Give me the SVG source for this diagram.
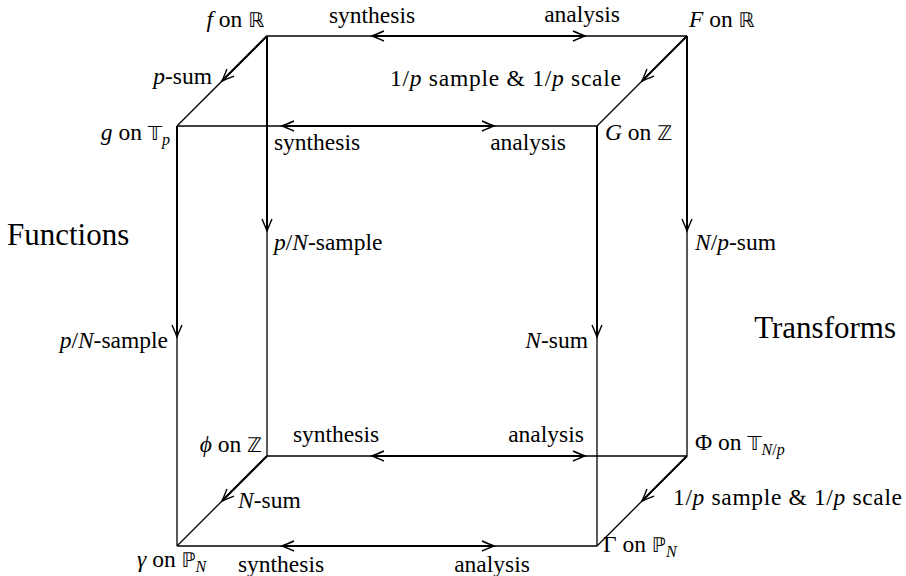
<svg xmlns="http://www.w3.org/2000/svg" width="906" height="576" viewBox="0 0 906 576">
<style>
text{font-family:'Liberation Serif','Times New Roman','DejaVu Serif',serif;font-size:23.5px;fill:#000}
.big{font-size:31px}
.i{font-style:italic}
.bb{font-family:'DejaVu Sans','DejaVu Serif',sans-serif;font-size:20px}
.sub{font-size:16px}
.edge{stroke:#000;stroke-width:1.3;fill:none}
.arr{stroke:#000;stroke-width:2;fill:none;marker-end:url(#ah)}
.dbl{stroke:#000;stroke-width:2;fill:none;marker-end:url(#ah);marker-start:url(#ah)}
</style>
<defs>
<marker id="ah" viewBox="-14 -7 16 14" refX="0" refY="0" markerWidth="16" markerHeight="14" markerUnits="userSpaceOnUse" orient="auto-start-reverse" overflow="visible">
<path d="M-12,-5 Q-4,-1.5 0,0 Q-4,1.5 -12,5" fill="none" stroke="#000" stroke-width="1.4"/>
</marker>
</defs>
<rect width="906" height="576" fill="#fff"/>
<g id="connectors">
<line class="edge" x1="267" y1="36" x2="687" y2="36"/>
<line class="edge" x1="267" y1="456" x2="687" y2="456"/>
<line class="edge" x1="267" y1="36" x2="267" y2="456"/>
<line class="edge" x1="687" y1="36" x2="687" y2="456"/>
<line class="edge" x1="177" y1="126" x2="597" y2="126"/>
<line class="edge" x1="177" y1="546" x2="597" y2="546"/>
<line class="edge" x1="177" y1="126" x2="177" y2="546"/>
<line class="edge" x1="597" y1="126" x2="597" y2="546"/>
<line class="edge" x1="267" y1="36" x2="177" y2="126"/>
<line class="edge" x1="687" y1="36" x2="597" y2="126"/>
<line class="edge" x1="267" y1="456" x2="177" y2="546"/>
<line class="edge" x1="687" y1="456" x2="597" y2="546"/>
<line class="dbl" x1="372" y1="36" x2="585" y2="36"/>
<line class="dbl" x1="282" y1="126" x2="494" y2="126"/>
<line class="dbl" x1="372" y1="456" x2="585" y2="456"/>
<line class="dbl" x1="282" y1="546" x2="494" y2="546"/>
<line class="arr" x1="267" y1="36" x2="222" y2="81"/>
<line class="arr" x1="687" y1="36" x2="642" y2="81"/>
<line class="arr" x1="267" y1="456" x2="222" y2="501"/>
<line class="arr" x1="687" y1="456" x2="642" y2="501"/>
<line class="arr" x1="267" y1="36" x2="267" y2="231"/>
<line class="arr" x1="687" y1="36" x2="687" y2="231"/>
<line class="arr" x1="177" y1="126" x2="177" y2="337"/>
<line class="arr" x1="597" y1="126" x2="597" y2="337"/>
</g>
<g id="edge-labels">
<text x="372" y="23" text-anchor="middle">synthesis</text>
<text x="582" y="22" text-anchor="middle">analysis</text>
<text x="317" y="150" text-anchor="middle">synthesis</text>
<text x="528" y="150" text-anchor="middle">analysis</text>
<text x="336" y="442" text-anchor="middle">synthesis</text>
<text x="546" y="442" text-anchor="middle">analysis</text>
<text x="281" y="572" text-anchor="middle">synthesis</text>
<text x="492" y="572" text-anchor="middle">analysis</text>
<text x="212" y="84" text-anchor="end"><tspan class="i">p</tspan>-sum</text>
<text x="390" y="86" textLength="231" lengthAdjust="spacing">1/<tspan class="i">p</tspan> sample &amp; 1/<tspan class="i">p</tspan> scale</text>
<text x="673" y="505" textLength="229" lengthAdjust="spacing">1/<tspan class="i">p</tspan> sample &amp; 1/<tspan class="i">p</tspan> scale</text>
<text x="238" y="508"><tspan class="i">N</tspan>-sum</text>
<text x="274" y="250"><tspan class="i">p</tspan>/<tspan class="i">N</tspan>-sample</text>
<text x="168" y="348" text-anchor="end"><tspan class="i">p</tspan>/<tspan class="i">N</tspan>-sample</text>
<text x="695" y="250"><tspan class="i">N</tspan>/<tspan class="i">p</tspan>-sum</text>
<text x="588" y="348" text-anchor="end"><tspan class="i">N</tspan>-sum</text>
</g>
<g id="titles">
<text class="big" x="7" y="245">Functions</text>
<text class="big" x="896" y="338" text-anchor="end">Transforms</text>
</g>
<g id="node-f"><text x="264" y="27" text-anchor="end"><tspan class="i">f</tspan> on <tspan class="bb">ℝ</tspan></text></g>
<g id="node-F"><text x="689" y="27"><tspan class="i">F</tspan> on <tspan class="bb">ℝ</tspan></text></g>
<g id="node-g"><text x="170" y="140" text-anchor="end"><tspan class="i">g</tspan> on <tspan class="bb">𝕋</tspan><tspan class="sub i" dy="5">p</tspan></text></g>
<g id="node-G"><text x="605" y="140"><tspan class="i">G</tspan> on <tspan class="bb">ℤ</tspan></text></g>
<g id="node-phi"><text x="262" y="452" text-anchor="end"><tspan class="i">ϕ</tspan> on <tspan class="bb">ℤ</tspan></text></g>
<g id="node-Phi"><text x="695" y="450">Φ on <tspan class="bb">𝕋</tspan><tspan class="sub" dy="5"><tspan class="i">N</tspan>/<tspan class="i">p</tspan></tspan></text></g>
<g id="node-gamma"><text x="137" y="567"><tspan class="i">γ</tspan> on <tspan class="bb">ℙ</tspan><tspan class="sub i" dy="5">N</tspan></text></g>
<g id="node-Gamma"><text x="603" y="552">Γ on <tspan class="bb">ℙ</tspan><tspan class="sub i" dy="5">N</tspan></text></g>
</svg>
